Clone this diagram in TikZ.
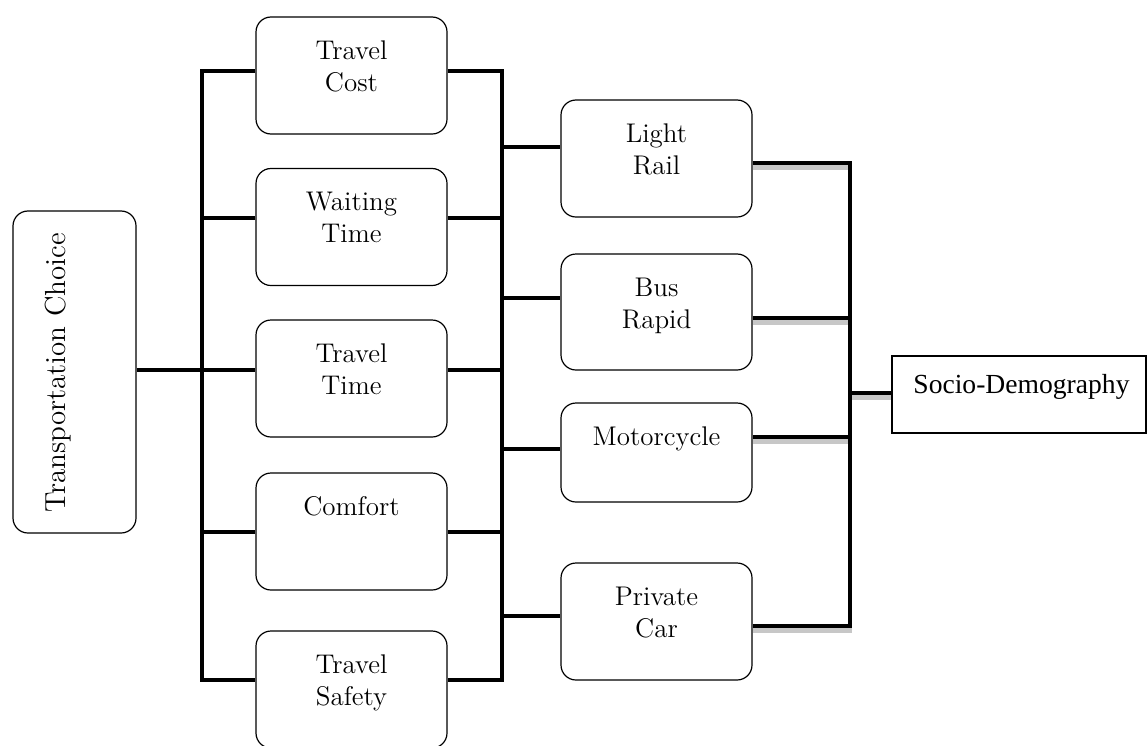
\documentclass[tikz,border=0pt]{standalone}
\usepackage{fontspec}
\newfontfamily\socfont{Liberation Serif}
\usetikzlibrary{calc}
\begin{document}
\begin{tikzpicture}[x=0.5bp,y=-0.5bp,
  box/.style={draw, line width=0.6bp, rounded corners=7.5bp, fill=white, inner sep=0pt,
              minimum width=95.5bp, minimum height=58.5bp},
  lab/.style={anchor=north, align=center, inner sep=0pt, font=\fontsize{13.5bp}{16bp}\selectfont},
  conn/.style={line width=2.35bp},
  shade/.style={line width=2.2bp, draw=black!22}]
\useasboundingbox (0,0) rectangle (1148,745);
\clip (0,0) rectangle (1148,745);

% ---------- bus coordinates ----------
\coordinate (LA) at (202,71);
\coordinate (LB) at (202,218);
\coordinate (LC) at (202,370);
\coordinate (LD) at (202,532);
\coordinate (LE) at (202,680);
\coordinate (MA) at (502,71);
\coordinate (MB) at (502,218);
\coordinate (MC) at (502,370);
\coordinate (MD) at (502,532);
\coordinate (ME) at (502,680);
\coordinate (M1) at (502,147);
\coordinate (M2) at (502,298);
\coordinate (M3) at (502,449);
\coordinate (M4) at (502,616);
\coordinate (RA) at (850,163);
\coordinate (RB) at (850,318);
\coordinate (RC) at (850,437);
\coordinate (RD) at (850,626);
\coordinate (RS) at (850,393);

% ---------- boxes ----------
\node[box, minimum width=61.5bp, minimum height=161bp] (tc) at (74.5,372) {};
\node[lab, anchor=base, rotate=90, font=\fontsize{14.5bp}{16bp}\selectfont] (tclab) at (65,373) {Transportation Choice};

\node[box] (tcost) at (351.5,75.5) {};
\node[lab] (tcostlab) at (351.5,40.5) {Travel\\Cost};
\node[box] (wait) at (351.5,227) {};
\node[lab] (waitlab) at (351.5,191.5) {Waiting\\Time};
\node[box] (ttime) at (351.5,378.5) {};
\node[lab] (ttimelab) at (351.5,343.5) {Travel\\Time};
\node[box] (comf) at (351.5,531.5) {};
\node[lab] (comflab) at (351.5,496.5) {Comfort};
\node[box] (tsafe) at (351.5,689.5) {};
\node[lab] (tsafelab) at (351.5,654.5) {Travel\\Safety};

\node[box] (lrail) at (656.5,158.5) {};
\node[lab] (lraillab) at (656.5,123.5) {Light\\Rail};
\node[box, minimum height=58bp] (brt) at (656.5,312) {};
\node[lab] (brtlab) at (656.5,277.5) {Bus\\Rapid};
\node[box, minimum height=49.5bp] (moto) at (656.5,452.5) {};
\node[lab] (motolab) at (656.5,426.5) {Motorcycle};
\node[box] (pcar) at (656.5,621.5) {};
\node[lab] (pcarlab) at (656.5,586.5) {Private\\Car};

\node[draw, line width=0.6bp, fill=white, inner sep=0pt, minimum width=127bp, minimum height=38.5bp] (socio) at (1019,394.5) {};
\node[anchor=base west, inner sep=0pt, font=\socfont\fontsize{13.8bp}{16bp}\selectfont] (sociolab) at (913,393) {Socio-Demography};

% ---------- shadows ----------
\draw[shade] ($(lrail.east |- RA)+(0,4.5)$) -- ($(RA)+(0,4.5)$);
\draw[shade] ($(brt.east |- RB)+(0,4.5)$) -- ($(RB)+(0,4.5)$);
\draw[shade] ($(moto.east |- RC)+(0,4.5)$) -- ($(RC)+(0,4.5)$);
\draw[shade] ($(pcar.east |- RD)+(0,4.5)$) -- ($(RD)+(2,4.5)$);
\draw[shade] ($(RS)+(0,4.5)$) -- ($(socio.west |- RS)+(0,4.5)$);

% ---------- connectors ----------
\draw[conn] (tcost.west |- LA) -- (LA) -- (LE) -- (tsafe.west |- LE);
\draw[conn] (wait.west |- LB) -- (LB);
\draw[conn] (tc.east |- LC) -- (ttime.west |- LC);
\draw[conn] (comf.west |- LD) -- (LD);

\draw[conn] (tcost.east |- MA) -- (MA) -- (ME) -- (tsafe.east |- ME);
\draw[conn] (wait.east |- MB) -- (MB);
\draw[conn] (ttime.east |- MC) -- (MC);
\draw[conn] (comf.east |- MD) -- (MD);

\draw[conn] (M1) -- (lrail.west |- M1);
\draw[conn] (M2) -- (brt.west |- M2);
\draw[conn] (M3) -- (moto.west |- M3);
\draw[conn] (M4) -- (pcar.west |- M4);

\draw[conn] (lrail.east |- RA) -- (RA) -- (RD) -- (pcar.east |- RD);
\draw[conn] (brt.east |- RB) -- (RB);
\draw[conn] (moto.east |- RC) -- (RC);
\draw[conn] (RS) -- (socio.west |- RS);
\end{tikzpicture}
\end{document}
